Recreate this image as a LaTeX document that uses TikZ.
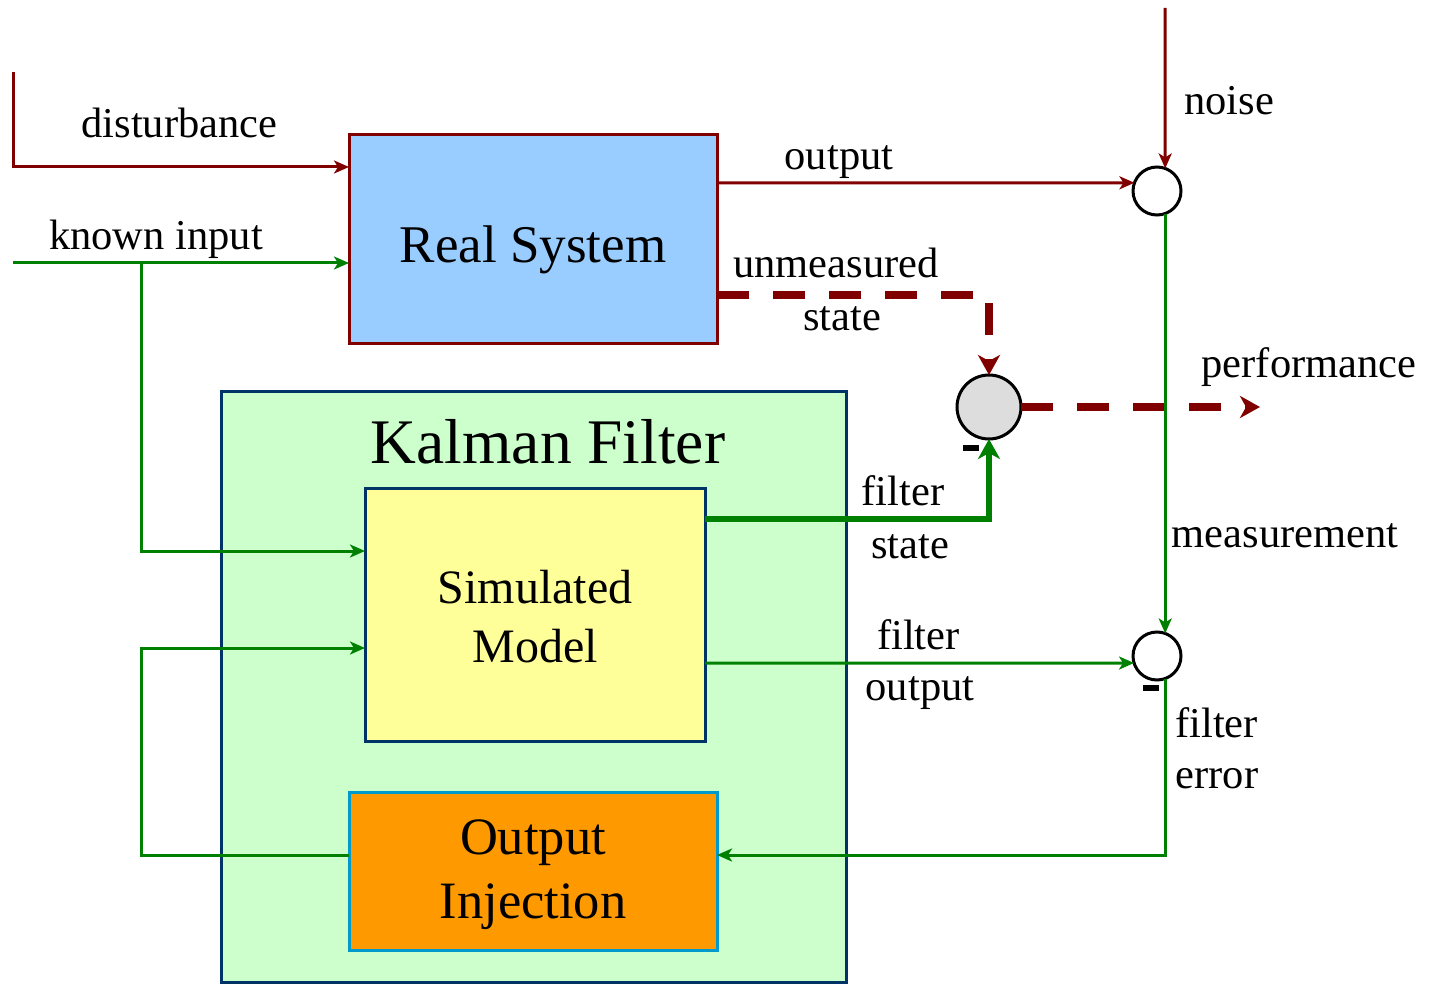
\documentclass[tikz,border=0pt]{standalone}
\usepackage{fontspec}
\setmainfont{Liberation Serif}
\usetikzlibrary{arrows.meta}
\definecolor{dred}{HTML}{800000}
\definecolor{dgreen}{HTML}{008000}
\definecolor{rsfill}{HTML}{99CCFF}
\definecolor{kffill}{HTML}{CCFFCC}
\definecolor{kfdraw}{HTML}{003366}
\definecolor{smfill}{HTML}{FFFF99}
\definecolor{oifill}{HTML}{FF9900}
\definecolor{oidraw}{HTML}{0099CC}
\definecolor{sumgray}{HTML}{DDDDDD}
\begin{document}
\begin{tikzpicture}[x=1pt,y=-1pt,
  box/.style={draw, line width=3pt, inner sep=0pt, outer sep=0pt, align=center},
  sumnode/.style={circle, draw=black, line width=3pt, fill=white, inner sep=0pt, outer sep=0pt},
  lbl/.style={font=\fontsize{42.5}{50}\selectfont, anchor=base, inner sep=0pt},
  redline/.style={draw=dred, line width=3pt, -{Stealth[length=15pt,width=13pt,inset=4pt]}},
  greenline/.style={draw=dgreen, line width=3pt, -{Stealth[length=15pt,width=13pt,inset=4pt]}},
  thickgreen/.style={draw=dgreen, line width=6pt, -{Stealth[length=20pt,width=22pt,inset=6pt]}},
  reddash/.style={draw=dred, line width=8pt, dash pattern=on 32pt off 24pt, -{Stealth[length=20pt,width=22pt,inset=6pt]}},
  minusmark/.style={fill=black}
]
\useasboundingbox (0,0) rectangle (1437,984);

% boxes
\node[box, draw=kfdraw, fill=kffill, minimum width=625pt, minimum height=591pt] (kf) at (533.5,686.5) {};
\node[box, draw=dred, fill=rsfill, minimum width=368pt, minimum height=208pt] (rs) at (533,239) {};
\node[box, draw=kfdraw, fill=smfill, minimum width=340pt, minimum height=253pt] (sm) at (535,614.5) {};
\node[box, draw=oidraw, fill=oifill, minimum width=368pt, minimum height=158pt] (oi) at (533,871) {};

% box texts
\node[lbl, font=\fontsize{53}{60}\selectfont] (rst) at (533,263) {Real System};
\node[lbl, font=\fontsize{63.5}{70}\selectfont] (kft) at (548,463) {Kalman Filter};
\node[lbl, font=\fontsize{48}{56}\selectfont] (smt1) at (535,603) {Simulated};
\node[lbl, font=\fontsize{48}{56}\selectfont] (smt2) at (535,662) {Model};
\node[lbl, font=\fontsize{52.5}{60}\selectfont] (oit1) at (533,854) {Output};
\node[lbl, font=\fontsize{52.5}{60}\selectfont] (oit2) at (533,918) {Injection};

% summing junctions
\node[sumnode, minimum size=48pt] (c1) at (1157,191) {};
\node[sumnode, minimum size=64pt, fill=sumgray] (c2) at (989,407) {};
\node[sumnode, minimum size=48pt] (c3) at (1157,656) {};

% free ends
\coordinate (d0) at (13,72);
\coordinate (k0) at (13,263);
\coordinate (kb) at (141,263);
\coordinate (fb) at (141,750);
\coordinate (n0) at (1165,8);
\coordinate (pf) at (1260,407);

% red connectors
\draw[redline] (d0) |- ([yshift=72pt]rs.west);
\draw[redline] ([yshift=56pt]rs.east) -- (c1.160);
\draw[redline] (n0) -- (c1.70);
\draw[reddash] ([yshift=-56pt]rs.east) -| (c2.north);
\draw[reddash] (c2.east) -- (pf);

% green connectors
\draw[greenline] (k0) -- ([yshift=-24pt]rs.west);
\draw[greenline] (kb) |- ([yshift=63.5pt]sm.west);
\draw[greenline] ([yshift=16pt]oi.west) -| (fb) |- ([yshift=-33.5pt]sm.west);
\draw[greenline] (c1.-70) -- (c3.70);
\draw[greenline] (c3.-70) |- ([yshift=16pt]oi.east);
\draw[greenline] ([yshift=-48.5pt]sm.east) -- (c3.197);
\draw[thickgreen] ([yshift=95.5pt]sm.east) -| (c2.south);

% minus signs
\fill[minusmark] (963,445) rectangle (979,451);
\fill[minusmark] (1143,685) rectangle (1159,691);

% labels
\node[lbl] (l1) at (179.5,138) {disturbance};
\node[lbl] (l2) at (156,250) {known input};
\node[lbl] (l3) at (839,170) {output};
\node[lbl] (l4) at (836,278) {unmeasured};
\node[lbl] (l5) at (842,330) {state};
\node[lbl] (l6) at (1229,115) {noise};
\node[lbl] (l7) at (1309,377) {performance};
\node[lbl] (l8) at (1285,547) {measurement};
\node[lbl] (l9) at (903,505) {filter};
\node[lbl] (l10) at (910,558) {state};
\node[lbl] (l11) at (918.5,649) {filter};
\node[lbl] (l12) at (920,700) {output};
\node[lbl] (l13) at (1216.5,737) {filter};
\node[lbl] (l14) at (1217,788) {error};
\end{tikzpicture}
\end{document}
